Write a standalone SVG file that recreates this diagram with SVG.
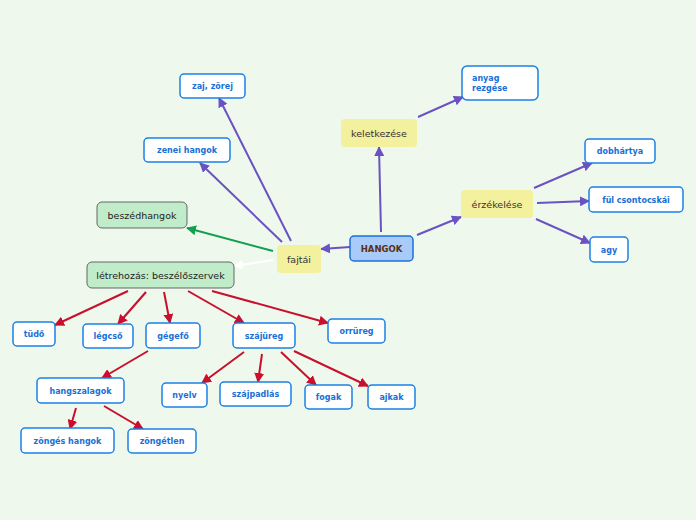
<svg xmlns="http://www.w3.org/2000/svg" width="696" height="520" viewBox="0 0 696 520">
<defs>
<marker id="mp" markerWidth="10" markerHeight="10" refX="9" refY="5" orient="auto" markerUnits="userSpaceOnUse"><path d="M0,0 L10,5 L0,10 Z" fill="#6a52c2"/></marker>
<marker id="mr" markerWidth="10" markerHeight="10" refX="9" refY="5" orient="auto" markerUnits="userSpaceOnUse"><path d="M0,0 L10,5 L0,10 Z" fill="#c8102e"/></marker>
<marker id="mg" markerWidth="10" markerHeight="10" refX="9" refY="5" orient="auto" markerUnits="userSpaceOnUse"><path d="M0,0 L10,5 L0,10 Z" fill="#10a050"/></marker>
<marker id="mw" markerWidth="10" markerHeight="10" refX="9" refY="5" orient="auto" markerUnits="userSpaceOnUse"><path d="M0,0 L10,5 L0,10 Z" fill="#ffffff"/></marker>
</defs>
<style>
.leaf rect{fill:#ffffff;stroke:#1a80e6;stroke-width:1.5}
.leaf text{fill:#1a6fd6;font-family:"DejaVu Sans",Verdana,sans-serif;font-size:8px;font-weight:bold}
.yel rect{fill:#f3f09e}
.yel text{fill:#333333;font-family:"DejaVu Sans",Verdana,sans-serif;font-size:9.5px}
.grn rect{fill:#c0ecca;stroke:#666666;stroke-width:1}
.grn text{fill:#222222;font-family:"DejaVu Sans",Verdana,sans-serif;font-size:9.5px}
.p{stroke:#6a52c2;stroke-width:2;fill:none;marker-end:url(#mp)}
.r{stroke:#c8102e;stroke-width:2;fill:none;marker-end:url(#mr)}
</style>
<rect width="696" height="520" fill="#eff8ec"/>
<g id="connectors">
<line class="p" x1="381" y1="232" x2="379" y2="147"/>
<line class="p" x1="418" y1="117" x2="463" y2="97"/>
<line class="p" x1="417" y1="235" x2="461" y2="217"/>
<line class="p" x1="534" y1="188" x2="592" y2="163"/>
<line class="p" x1="537" y1="203" x2="589" y2="201"/>
<line class="p" x1="536" y1="219" x2="590" y2="243"/>
<line class="p" x1="350" y1="247" x2="321" y2="249"/>
<line class="p" x1="291" y1="241" x2="219" y2="98"/>
<line class="p" x1="282" y1="242" x2="200" y2="163"/>
<line x1="273" y1="251" x2="187" y2="228" stroke="#10a050" stroke-width="2" marker-end="url(#mg)"/>
<line x1="273" y1="260" x2="234" y2="266" stroke="#ffffff" stroke-width="2" marker-end="url(#mw)"/>
<line class="r" x1="128" y1="291" x2="55" y2="325"/>
<line class="r" x1="146" y1="292" x2="118" y2="324"/>
<line class="r" x1="164" y1="292" x2="170" y2="323"/>
<line class="r" x1="188" y1="291" x2="244" y2="323"/>
<line class="r" x1="212" y1="291" x2="328" y2="323"/>
<line class="r" x1="148" y1="351" x2="102" y2="378"/>
<line class="r" x1="244" y1="352" x2="202" y2="383"/>
<line class="r" x1="262" y1="354" x2="258" y2="382"/>
<line class="r" x1="281" y1="352" x2="316" y2="385"/>
<line class="r" x1="294" y1="351" x2="368" y2="386"/>
<line class="r" x1="76" y1="408" x2="70" y2="429"/>
<line class="r" x1="104" y1="406" x2="143" y2="429"/>
</g>
<g id="hangok"><rect x="350" y="236" width="63" height="25" rx="4" fill="#a8cbfa" stroke="#1a70dc" stroke-width="1.5"/><text x="381.5" y="251.5" text-anchor="middle" fill="#5a3010" font-family="DejaVu Sans,Verdana,sans-serif" font-size="8.5" font-weight="bold">HANGOK</text></g>
<g id="keletkezese" class="yel"><rect x="341" y="119" width="76" height="28" rx="4"/><text x="379" y="136.5" text-anchor="middle">keletkezése</text></g>
<g id="erzekelese" class="yel"><rect x="461" y="190" width="72" height="28" rx="4"/><text x="497" y="207.5" text-anchor="middle">érzékelése</text></g>
<g id="fajtai" class="yel"><rect x="277" y="245" width="44" height="28" rx="4"/><text x="299" y="262.5" text-anchor="middle" fill="#111">fajtái</text></g>
<g id="anyag" class="leaf"><rect x="462" y="66" width="76" height="34" rx="5"/><text x="472" y="81">anyag</text><text x="472" y="91">rezgése</text></g>
<g id="dobhartya" class="leaf"><rect x="585" y="139" width="70" height="24" rx="4"/><text x="620" y="154" text-anchor="middle">dobhártya</text></g>
<g id="ful" class="leaf"><rect x="589" y="187" width="94" height="25" rx="4"/><text x="636" y="202.5" text-anchor="middle">fül csontocskái</text></g>
<g id="agy" class="leaf"><rect x="590" y="237" width="38" height="25" rx="4"/><text x="609" y="252.5" text-anchor="middle">agy</text></g>
<g id="zaj" class="leaf"><rect x="180" y="74" width="65" height="24" rx="4"/><text x="212.5" y="89" text-anchor="middle">zaj, zörej</text></g>
<g id="zenei" class="leaf"><rect x="144" y="138" width="86" height="24" rx="4"/><text x="187" y="153" text-anchor="middle">zenei hangok</text></g>
<g id="beszedhangok" class="grn"><rect x="97" y="202" width="90" height="26" rx="5"/><text x="142" y="218.5" text-anchor="middle">beszédhangok</text></g>
<g id="letrehozas" class="grn"><rect x="87" y="262" width="147" height="26" rx="5"/><text x="160.5" y="278.5" text-anchor="middle">létrehozás: beszélőszervek</text></g>
<g id="tudo" class="leaf"><rect x="13" y="322" width="42" height="24" rx="4"/><text x="34" y="337" text-anchor="middle">tüdő</text></g>
<g id="legcso" class="leaf"><rect x="83" y="324" width="50" height="24" rx="4"/><text x="108" y="339" text-anchor="middle">légcső</text></g>
<g id="gegefo" class="leaf"><rect x="146" y="323" width="54" height="25" rx="4"/><text x="173" y="338.5" text-anchor="middle">gégefő</text></g>
<g id="szajureg" class="leaf"><rect x="233" y="323" width="62" height="25" rx="4"/><text x="264" y="338.5" text-anchor="middle">szájüreg</text></g>
<g id="orrureg" class="leaf"><rect x="328" y="319" width="57" height="24" rx="4"/><text x="356.5" y="334" text-anchor="middle">orrüreg</text></g>
<g id="hangszalagok" class="leaf"><rect x="37" y="378" width="87" height="25" rx="4"/><text x="80.5" y="393.5" text-anchor="middle">hangszalagok</text></g>
<g id="nyelv" class="leaf"><rect x="162" y="383" width="45" height="24" rx="4"/><text x="184.5" y="398" text-anchor="middle">nyelv</text></g>
<g id="szajpadlas" class="leaf"><rect x="220" y="382" width="71" height="24" rx="4"/><text x="255.5" y="397" text-anchor="middle">szájpadlás</text></g>
<g id="fogak" class="leaf"><rect x="305" y="385" width="47" height="24" rx="4"/><text x="328.5" y="400" text-anchor="middle">fogak</text></g>
<g id="ajkak" class="leaf"><rect x="368" y="385" width="47" height="24" rx="4"/><text x="391.5" y="400" text-anchor="middle">ajkak</text></g>
<g id="zonges" class="leaf"><rect x="21" y="428" width="93" height="25" rx="4"/><text x="67.5" y="443.5" text-anchor="middle">zöngés hangok</text></g>
<g id="zongetlen" class="leaf"><rect x="128" y="429" width="68" height="24" rx="4"/><text x="162" y="444" text-anchor="middle">zöngétlen</text></g>
</svg>
